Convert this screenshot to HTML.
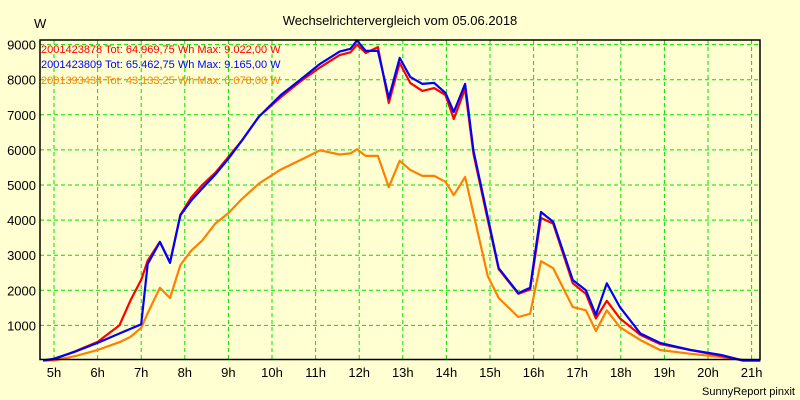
<!DOCTYPE html>
<html><head><meta charset="utf-8"><style>
body{margin:0;background:#ffffd2;}
svg{display:block;font-family:"Liberation Sans",Arial,sans-serif;}
</style></head><body>
<svg id="chart" width="800" height="400" viewBox="0 0 800 400">
<rect x="0" y="0" width="800" height="400" fill="#ffffd2"/>
<text x="400" y="25" text-anchor="middle" font-size="13" fill="#000">Wechselrichtervergleich vom 05.06.2018</text>
<text x="34" y="28" font-size="13" fill="#000">W</text>
<g id="grid"></g>
<g id="yticks"></g>
<g id="xticks"></g>
<g id="series"></g>
<rect x="40" y="40" width="720" height="319.5" fill="none" stroke="#000" stroke-width="1.5"/>
<g font-size="11">
<text x="41" y="53" fill="#ff0000">2001423878 Tot: 64.969,75 Wh Max: 9.022,00 W</text>
<text x="41" y="68" fill="#0000ff">2001423809 Tot: 65.462,75 Wh Max: 9.165,00 W</text>
<text x="41" y="84" fill="#ff8000">2001393434 Tot: 43.133,25 Wh Max: 6.078,00 W</text>
</g>
<text x="795" y="395" text-anchor="end" font-size="11" fill="#000">SunnyReport pinxit</text>
</svg>
<script>
const times=[4.75,5.0,5.5,6.0,6.5,6.75,7.0,7.15,7.43,7.66,7.9,8.15,8.4,8.7,9.0,9.3,9.7,10.2,10.65,11.1,11.55,11.8,11.95,12.15,12.43,12.68,12.93,13.17,13.45,13.72,13.98,14.17,14.43,14.62,14.95,15.2,15.65,15.92,16.17,16.45,16.9,17.2,17.43,17.68,17.98,18.45,18.9,19.6,20.3,20.8,21.2];
const red=[0,30,270,530,1000,1700,2300,2850,3380,2800,4150,4650,5000,5350,5800,6250,6950,7500,7950,8350,8700,8780,9000,8760,8930,7340,8480,7910,7680,7760,7560,6880,7740,5900,4000,2600,1900,2020,4060,3900,2200,1900,1200,1700,1200,730,470,300,130,0,0];
const blue=[0,50,260,500,770,900,1030,2750,3380,2780,4140,4560,4900,5300,5750,6250,6950,7560,8000,8450,8800,8880,9120,8820,8820,7480,8620,8080,7880,7910,7620,7080,7880,5990,4080,2630,1920,2070,4230,3950,2290,2000,1300,2200,1520,770,500,300,160,0,0];
const orange=[0,0,130,300,520,670,930,1350,2070,1780,2720,3130,3420,3900,4200,4590,5040,5440,5710,5990,5870,5900,6020,5830,5830,4940,5690,5430,5260,5260,5090,4710,5230,4200,2400,1780,1240,1330,2830,2630,1520,1430,840,1430,950,580,300,190,100,20,0];
const yTicks=[1000,2000,3000,4000,5000,6000,7000,8000,9000];
const xTicks=[5,6,7,8,9,10,11,12,13,14,15,16,17,18,19,20,21];
const xTickLabels=["5h","6h","7h","8h","9h","10h","11h","12h","13h","14h","15h","16h","17h","18h","19h","20h","21h"];
const NS="http://www.w3.org/2000/svg";
const X=t=>54+(t-5)*43.6;
const Y=v=>360.5-v*0.0351;
function mk(tag,attrs,parent){const e=document.createElementNS(NS,tag);for(const k in attrs)e.setAttribute(k,attrs[k]);parent.appendChild(e);return e;}
const grid=document.getElementById('grid'),yt=document.getElementById('yticks'),xt=document.getElementById('xticks'),sg=document.getElementById('series');
yTicks.forEach(v=>{
 const l=mk('line',{x1:40,x2:760,y1:Y(v),y2:Y(v),stroke:'#00e000','stroke-width':1,'stroke-dasharray':'4,3'},grid);
 
 
 const t=mk('text',{x:36,y:Y(v)+5,'text-anchor':'end','font-size':13,fill:'#000'},yt);
 t.textContent=v;
 
 
});
xTicks.forEach((h,i)=>{
 const l=mk('line',{x1:X(h),x2:X(h),y1:40,y2:359,stroke:'#00e000','stroke-width':1,'stroke-dasharray':'4,3'},grid);
 
 
 const t=mk('text',{x:X(h),y:377,'text-anchor':'middle','font-size':13,fill:'#000'},xt);
 t.textContent=xTickLabels[i];
 
 
});
function line(vals,color,name){
 const pts=vals.map((v,i)=>X(times[i]).toFixed(1)+','+Y(v).toFixed(1)).join(' ');
 const p=mk('polyline',{points:pts,fill:'none',stroke:color,'stroke-width':2.2,'stroke-linejoin':'round'},sg);
 
 
}
line(orange,'#ff8000','series-2001393434');
line(red,'#ff0000','series-2001423878');
line(blue,'#0000ff','series-2001423809');
</script>
</body></html>
